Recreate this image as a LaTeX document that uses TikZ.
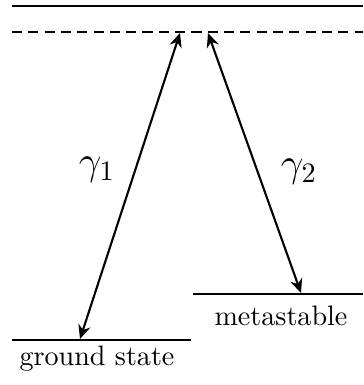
\documentclass[tikz,border=0pt]{standalone}
\usepackage{amsmath,amssymb}
\usepackage{tikz}
\usetikzlibrary{arrows.meta, positioning, calc}
\tikzset{
  >=Stealth,
  level/.style={line width=0.95pt, draw=black},
  virt/.style={line width=0.95pt, draw=black, dash pattern=on 3.6pt off 2.2pt},
  arr/.style={{Stealth[length=5pt,width=4.4pt]}-{Stealth[length=5pt,width=4.4pt]}, line width=0.75pt},
  lab/.style={font=\normalsize, inner sep=1pt}
}
\begin{document}
\begin{tikzpicture}[x=0.0125cm, y=-0.0125cm]
  \useasboundingbox (0,0) rectangle (363,385);
  % levels
  \coordinate (topL) at (12,6);   \coordinate (topR) at (363,6);
  \coordinate (virL) at (12,32);  \coordinate (virR) at (363,32);
  \coordinate (gsL) at (12,340);  \coordinate (gsR) at (191,340);
  \coordinate (msL) at (193,294); \coordinate (msR) at (363,294);
  \draw[level] (topL) -- (topR);
  \draw[virt] (virL) -- (virR);
  \draw[level] (gsL) -- (gsR);
  \draw[level] (msL) -- (msR);
  % transitions
  \coordinate (up1) at (180,33);  \coordinate (lo1) at (80,339);
  \coordinate (up2) at (208,33);  \coordinate (lo2) at (301,293);
  \draw[arr] (lo1) -- (up1);
  \draw[arr] (lo2) -- (up2);
  \node[lab, font=\Large] (g1) at (97,170) {$\gamma_1$};
  \node[lab, font=\Large] (g2) at (299,172) {$\gamma_2$};
  \node[lab] (gs) at (97,359) {ground state};
  \node[lab] (ms) at (281,316) {metastable};
\end{tikzpicture}
\end{document}
